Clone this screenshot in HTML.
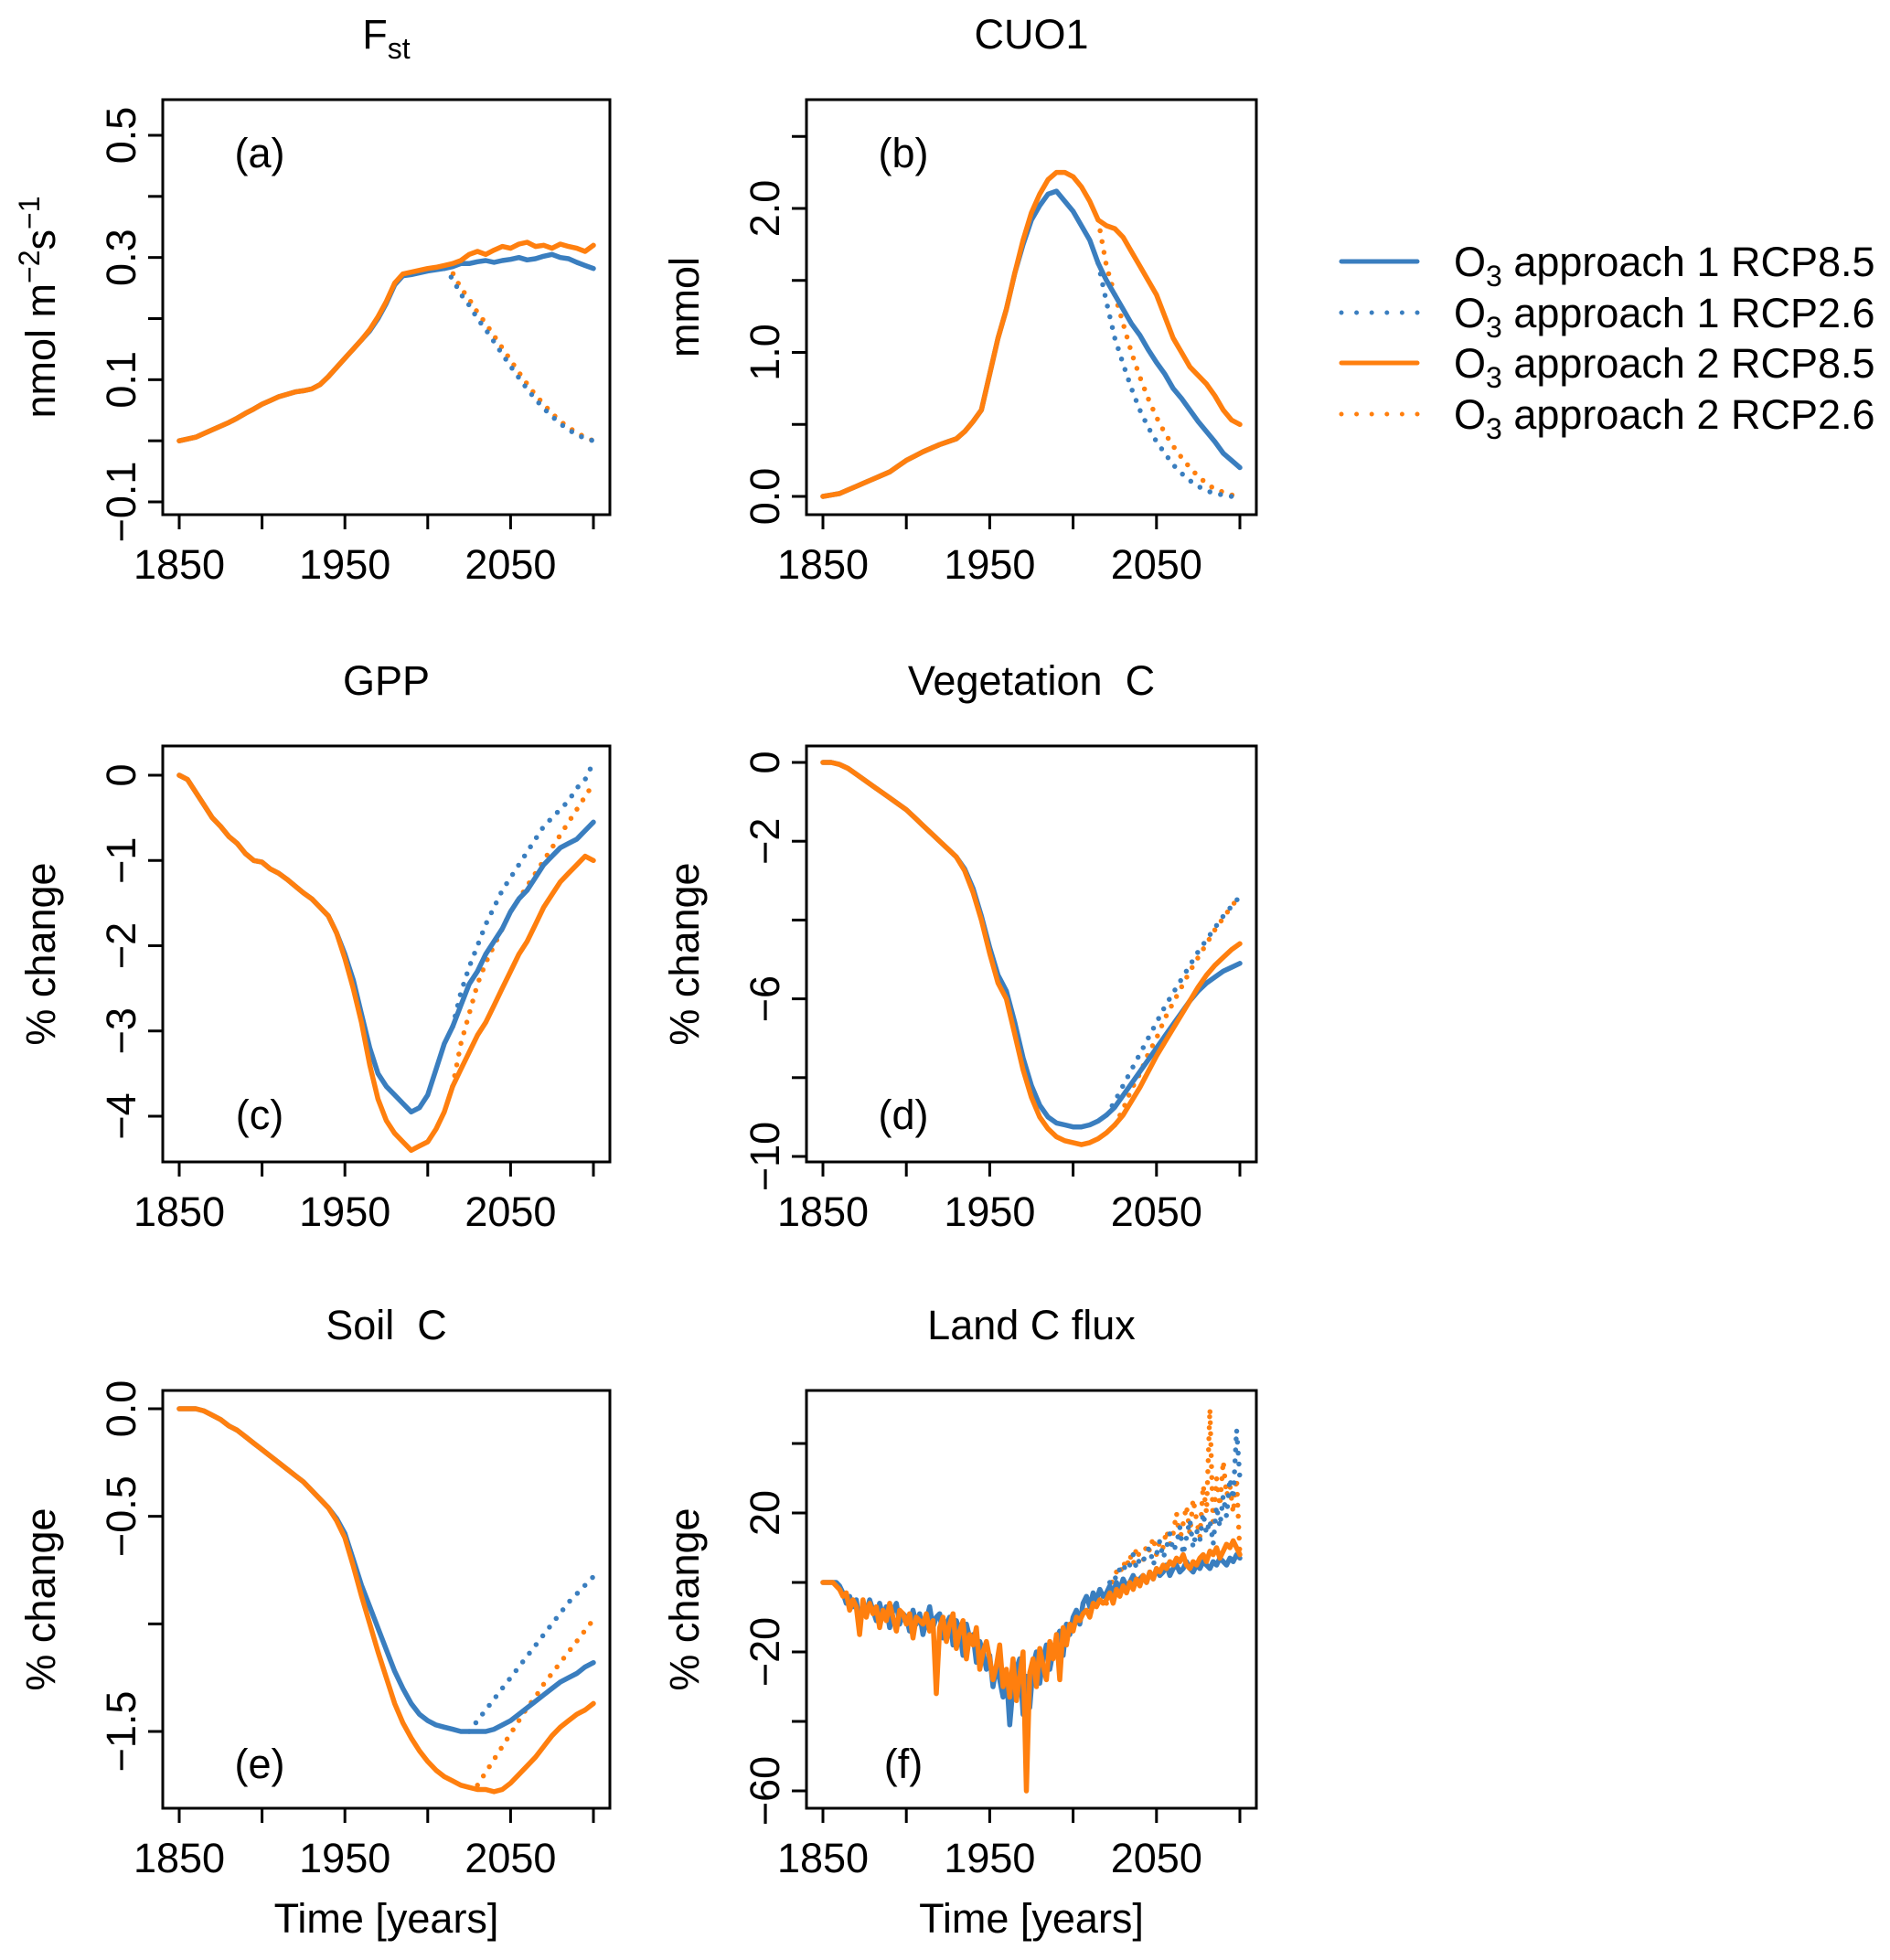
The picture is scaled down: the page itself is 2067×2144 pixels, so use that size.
<!DOCTYPE html>
<html><head><meta charset="utf-8"><style>
html,body{margin:0;padding:0;background:#fff;}
svg{display:block;font-family:"Liberation Sans",Arial,sans-serif;}
</style></head><body>
<svg id="fig" width="2067" height="2144" viewBox="0 0 2067 2144" xmlns="http://www.w3.org/2000/svg"></svg>
<script>
// ---------- data ----------
const yearsSolid=[];for(let y=1850;y<=2100;y+=5)yearsSolid.push(y);
const yearsFlux=[];for(let y=1850;y<=2100;y+=2)yearsFlux.push(y);
const yearsFluxDot=[];for(let y=2020;y<=2100;y+=2)yearsFluxDot.push(y);

// (a) Fst
const fstA1=[0,0.003,0.006,0.012,0.018,0.024,0.03,0.037,0.045,0.052,0.06,0.066,0.072,0.076,0.08,0.082,0.085,0.092,0.105,0.12,0.135,0.15,0.165,0.18,0.2,0.225,0.255,0.27,0.272,0.275,0.278,0.28,0.282,0.285,0.29,0.29,0.293,0.295,0.292,0.295,0.297,0.3,0.296,0.298,0.302,0.305,0.3,0.298,0.292,0.287,0.282];
const fstA2=[0,0.003,0.006,0.012,0.018,0.024,0.03,0.037,0.045,0.052,0.06,0.066,0.072,0.076,0.08,0.082,0.085,0.092,0.105,0.12,0.135,0.15,0.165,0.182,0.203,0.228,0.258,0.273,0.276,0.279,0.282,0.284,0.287,0.29,0.295,0.305,0.31,0.305,0.312,0.318,0.315,0.322,0.325,0.318,0.32,0.315,0.322,0.318,0.315,0.31,0.32];
const yearsDotA=[2010,2015,2020,2025,2030,2035,2040,2045,2050,2055,2060,2065,2070,2075,2080,2085,2090,2095,2100];
const fstA1d=[0.282,0.265,0.24,0.222,0.2,0.182,0.162,0.142,0.122,0.103,0.085,0.068,0.053,0.04,0.028,0.018,0.01,0.004,0];
const fstA2d=[0.284,0.275,0.25,0.232,0.21,0.192,0.172,0.152,0.132,0.112,0.093,0.075,0.06,0.045,0.032,0.022,0.013,0.006,0];

// (b) CUO1
const cuoA1=[0,0.01,0.02,0.045,0.07,0.095,0.12,0.145,0.17,0.21,0.25,0.28,0.31,0.335,0.36,0.38,0.4,0.45,0.52,0.6,0.85,1.1,1.3,1.55,1.75,1.92,2.02,2.1,2.12,2.05,1.98,1.88,1.78,1.62,1.5,1.4,1.3,1.2,1.12,1.02,0.93,0.85,0.75,0.68,0.6,0.52,0.45,0.38,0.3,0.25,0.2];
const cuoA2=[0,0.01,0.02,0.045,0.07,0.095,0.12,0.145,0.17,0.21,0.25,0.28,0.31,0.335,0.36,0.38,0.4,0.45,0.52,0.6,0.85,1.1,1.3,1.55,1.78,1.97,2.1,2.2,2.25,2.25,2.22,2.15,2.05,1.92,1.88,1.86,1.8,1.7,1.6,1.5,1.4,1.25,1.1,1.0,0.9,0.84,0.78,0.7,0.6,0.53,0.5];
const yearsDotB=[2015,2020,2025,2030,2035,2040,2045,2050,2055,2060,2065,2070,2075,2080,2085,2090,2095,2100];
const cuoA1d=[1.62,1.35,1.1,0.92,0.75,0.6,0.48,0.38,0.3,0.22,0.16,0.11,0.07,0.04,0.02,0.01,0,-0.01];
const cuoA2d=[1.92,1.6,1.4,1.2,1.0,0.83,0.68,0.55,0.44,0.35,0.27,0.2,0.14,0.09,0.05,0.03,0.01,0];

// (c) GPP
const gppA1=[0,-0.05,-0.2,-0.35,-0.5,-0.6,-0.72,-0.8,-0.92,-1.0,-1.02,-1.1,-1.15,-1.22,-1.3,-1.38,-1.45,-1.55,-1.65,-1.85,-2.1,-2.4,-2.8,-3.2,-3.5,-3.65,-3.75,-3.85,-3.95,-3.9,-3.75,-3.45,-3.15,-2.95,-2.7,-2.45,-2.3,-2.1,-1.95,-1.8,-1.6,-1.45,-1.35,-1.2,-1.05,-0.95,-0.85,-0.8,-0.75,-0.65,-0.55];
const gppA2=[0,-0.05,-0.2,-0.35,-0.5,-0.6,-0.72,-0.8,-0.92,-1.0,-1.02,-1.1,-1.15,-1.22,-1.3,-1.38,-1.45,-1.55,-1.65,-1.85,-2.15,-2.5,-2.9,-3.4,-3.8,-4.05,-4.2,-4.3,-4.4,-4.35,-4.3,-4.15,-3.95,-3.65,-3.45,-3.25,-3.05,-2.9,-2.7,-2.5,-2.3,-2.1,-1.95,-1.75,-1.55,-1.4,-1.25,-1.15,-1.05,-0.95,-1.0];
const gppA1d=[-2.95,-2.55,-2.25,-2.0,-1.75,-1.55,-1.35,-1.2,-1.05,-0.9,-0.75,-0.6,-0.5,-0.4,-0.3,-0.15,-0.05,0.15];
const gppA2d=[-3.65,-3.15,-2.8,-2.45,-2.2,-2.0,-1.8,-1.6,-1.45,-1.3,-1.15,-1.0,-0.85,-0.7,-0.55,-0.4,-0.25,-0.1];

// (d) Vegetation C
const vegA1=[0,0,-0.05,-0.15,-0.3,-0.45,-0.6,-0.75,-0.9,-1.05,-1.2,-1.4,-1.6,-1.8,-2.0,-2.2,-2.4,-2.7,-3.2,-3.9,-4.7,-5.4,-5.8,-6.6,-7.5,-8.2,-8.7,-9.0,-9.15,-9.2,-9.25,-9.25,-9.2,-9.1,-8.95,-8.75,-8.45,-8.15,-7.85,-7.55,-7.25,-6.95,-6.65,-6.35,-6.05,-5.8,-5.6,-5.45,-5.3,-5.2,-5.1];
const vegA2=[0,0,-0.05,-0.15,-0.3,-0.45,-0.6,-0.75,-0.9,-1.05,-1.2,-1.4,-1.6,-1.8,-2.0,-2.2,-2.4,-2.75,-3.3,-4.0,-4.85,-5.6,-6.0,-6.9,-7.8,-8.5,-9.0,-9.3,-9.5,-9.6,-9.65,-9.7,-9.65,-9.55,-9.4,-9.2,-8.95,-8.6,-8.25,-7.85,-7.45,-7.1,-6.75,-6.4,-6.05,-5.7,-5.4,-5.15,-4.95,-4.75,-4.6];
const yearsDotD1=[2020,2025,2030,2035,2040,2045,2050,2055,2060,2065,2070,2075,2080,2085,2090,2095,2100];
const vegA1d=[-8.95,-8.6,-8.2,-7.8,-7.4,-7.0,-6.6,-6.2,-5.85,-5.5,-5.15,-4.8,-4.5,-4.2,-3.9,-3.65,-3.4];
const yearsDotD2=[2025,2030,2035,2040,2045,2050,2055,2060,2065,2070,2075,2080,2085,2090,2095,2100];
const vegA2d=[-9.2,-8.8,-8.3,-7.9,-7.4,-7.0,-6.5,-6.1,-5.7,-5.3,-4.95,-4.6,-4.25,-3.95,-3.65,-3.4];

// (e) Soil C
const soilA1=[0,0,0,-0.01,-0.03,-0.05,-0.08,-0.1,-0.13,-0.16,-0.19,-0.22,-0.25,-0.28,-0.31,-0.34,-0.38,-0.42,-0.46,-0.51,-0.58,-0.7,-0.82,-0.92,-1.02,-1.12,-1.22,-1.3,-1.37,-1.42,-1.45,-1.47,-1.48,-1.49,-1.5,-1.5,-1.5,-1.5,-1.49,-1.47,-1.45,-1.42,-1.39,-1.36,-1.33,-1.3,-1.27,-1.25,-1.23,-1.2,-1.18];
const soilA2=[0,0,0,-0.01,-0.03,-0.05,-0.08,-0.1,-0.13,-0.16,-0.19,-0.22,-0.25,-0.28,-0.31,-0.34,-0.38,-0.42,-0.46,-0.52,-0.6,-0.73,-0.87,-1.0,-1.13,-1.25,-1.37,-1.46,-1.53,-1.59,-1.64,-1.68,-1.71,-1.73,-1.75,-1.76,-1.77,-1.77,-1.78,-1.77,-1.74,-1.7,-1.66,-1.62,-1.57,-1.52,-1.48,-1.45,-1.42,-1.4,-1.37];
const yearsDotE1=[2025,2030,2035,2040,2045,2050,2055,2060,2065,2070,2075,2080,2085,2090,2095,2100];
const soilA1d=[-1.5,-1.45,-1.4,-1.35,-1.3,-1.25,-1.2,-1.15,-1.1,-1.05,-1.0,-0.95,-0.9,-0.86,-0.82,-0.78];
const yearsDotE2=[2030,2035,2040,2045,2050,2055,2060,2065,2070,2075,2080,2085,2090,2095,2100];
const soilA2d=[-1.75,-1.69,-1.63,-1.57,-1.51,-1.45,-1.39,-1.34,-1.28,-1.23,-1.18,-1.13,-1.08,-1.03,-0.98];

// (f) Land C flux
const fluxA1=[0,0,0,0,0,
-1,-3,-6,-4,-7,-5,-12,-6,-9,-5,
-8,-11,-6,-10,-7,-13,-8,-6,-12,-9,
-10,-14,-8,-12,-9,-15,-11,-7,-13,-10,
-9,-16,-12,-10,-18,-11,-14,-21,-12,-16,
-15,-23,-17,-20,-25,-21,-30,-24,-28,-33,
-26,-41,-30,-25,-22,-38,-27,-36,-24,-20,
-29,-22,-18,-25,-20,-16,-14,-21,-12,-15,
-10,-8,-12,-6,-4,-7,-3,-5,-2,-4,
-3,-1,-3,0,-2,1,-1,0,2,0,
1,2,0,3,1,4,2,3,5,2,
4,5,3,4,6,4,3,5,4,6,
5,4,6,5,7,6,5,7,6,8,
7];
const fluxA2=[0,0,0,0,-1,
-2,-4,-3,-8,-5,-7,-15,-5,-10,-6,
-9,-7,-13,-8,-11,-6,-10,-14,-8,-9,
-12,-9,-16,-10,-11,-12,-9,-14,-11,-32,
-13,-10,-17,-12,-9,-19,-14,-11,-22,-15,
-18,-13,-25,-20,-17,-22,-28,-24,-18,-30,
-25,-33,-22,-34,-27,-20,-60,-26,-22,-30,
-19,-24,-28,-17,-22,-15,-28,-13,-18,-12,
-14,-10,-11,-9,-8,-10,-6,-7,-5,-6,
-5,-3,-6,-2,-4,-1,-3,0,-2,1,
-1,2,0,3,1,4,3,5,4,6,
5,7,6,8,5,4,6,5,7,8,
6,9,8,10,7,9,11,10,12,10,
8];
const fluxA1d=[-3,0,2,1,4,3,6,5,8,4,7,6,9,10,5,8,12,7,10,14,9,11,16,8,13,18,10,15,12,20,14,18,11,22,16,25,19,30,24,44,30];
const fluxA2d=[-6,-2,1,3,2,6,4,8,5,10,7,6,11,9,13,8,12,10,15,11,14,20,12,17,22,14,24,18,13,28,20,50,16,30,22,35,25,28,20,30,8];

// ---------- drawing ----------
const NS="http://www.w3.org/2000/svg";
const svg=document.getElementById('fig');
const BLUE="#3a7ebf", ORANGE="#ff7f0e";
const FS=45, SUBFS=32;
function mk(tag,attrs,parent){const e=document.createElementNS(NS,tag);for(const k in attrs)e.setAttribute(k,attrs[k]);(parent||svg).appendChild(e);return e;}

function panel(p){
  const g=mk('g',{});
  
  
  const L=p.x0,R=p.x1,T=p.y0,B=p.y1;
  const xs=v=>p.px1850+(v-1850)*(p.px2100-p.px1850)/250;
  const ys=v=>p.py0+(v-p.v0)*(p.py1-p.py0)/(p.v1-p.v0);
  const cid='clip-'+p.name;
  const cp=mk('clipPath',{id:cid},g);mk('rect',{x:L,y:T,width:R-L,height:B-T},cp);
  const plot=mk('g',{'clip-path':'url(#'+cid+')'},g);
  function series(xa,ya,color,dotted,nm){
    let d='';xa.forEach((x,i)=>{d+=(i?'L':'M')+xs(x).toFixed(1)+','+ys(ya[i]).toFixed(1);});
    const a={d:d,fill:'none',stroke:color,'stroke-width':dotted?5.5:5.5,'stroke-linejoin':'round','stroke-linecap':'round'};
    if(dotted){a['stroke-dasharray']='0 12';}
    const el=mk('path',a,plot);
    
    
  }
  series(p.dx2||p.dx,p.d2,ORANGE,true,'series-approach2-rcp26');
  series(p.dx,p.d1,BLUE,true,'series-approach1-rcp26');
  series(p.sx,p.s1,BLUE,false,'series-approach1-rcp85');
  series(p.sx,p.s2,ORANGE,false,'series-approach2-rcp85');
  const box=mk('rect',{x:L,y:T,width:R-L,height:B-T,fill:'none',stroke:'#000','stroke-width':3},g);
  
  
  const xt=[1850,1900,1950,2000,2050,2100];
  mk('line',{x1:xs(1850),x2:xs(2100),y1:B,y2:B,stroke:'#000','stroke-width':3},g);
  xt.forEach(t=>{mk('line',{x1:xs(t),x2:xs(t),y1:B,y2:B+16,stroke:'#000','stroke-width':3},g);});
  [1850,1950,2050].forEach(t=>{
    const tx=mk('text',{x:xs(t),y:B+70,'font-size':FS,'text-anchor':'middle'},g);tx.textContent=t;
    
    
  });
  p.yt.forEach(t=>{mk('line',{x1:L,x2:L-16,y1:ys(t),y2:ys(t),stroke:'#000','stroke-width':3},g);});
  p.yl.forEach((t,i)=>{
    const yy=ys(t);
    const tx=mk('text',{x:0,y:0,'font-size':FS,'text-anchor':'middle',transform:'translate('+(L-30)+','+yy+') rotate(-90)'},g);
    tx.textContent=p.ylab[i];
    
    
  });
  const yt=mk('text',{x:0,y:0,'font-size':FS,'text-anchor':'middle',transform:'translate('+(L-118)+','+((T+B)/2)+') rotate(-90)'},g);
  yt.innerHTML=p.ytitle;
  
  
  const tt=mk('text',{x:(L+R)/2,y:T-56,'font-size':FS,'text-anchor':'middle'},g);
  tt.innerHTML=p.title;
  
  
  const lt=mk('text',{x:L+106,y:p.letterY,'font-size':FS,'text-anchor':'middle'},g);
  lt.textContent=p.letter;
  
  
  if(p.xtitle){
    const xl=mk('text',{x:(L+R)/2,y:2114,'font-size':FS,'text-anchor':'middle'},g);
    xl.textContent='Time [years]';
    
    
  }
}
const C1={x0:178,x1:667,px1850:196,px2100:649};
const C2={x0:882,x1:1374,px1850:900,px2100:1356};
const R1={y0:109,y1:563},R2={y0:816,y1:1271},R3={y0:1521,y1:1978};

panel(Object.assign({},C1,R1,{name:'panel-a-fst',py0:549,v0:-0.1,py1:148,v1:0.5,
  sx:yearsSolid,s1:fstA1,s2:fstA2,dx:yearsDotA,d1:fstA1d,d2:fstA2d,
  yt:[-0.1,0,0.1,0.2,0.3,0.4,0.5],yl:[-0.1,0.1,0.3,0.5],ylab:['\u22120.1','0.1','0.3','0.5'],
  ytitle:'nmol m<tspan dy="-17" font-size="32">\u22122</tspan><tspan dy="17">s</tspan><tspan dy="-17" font-size="32">\u22121</tspan>',
  title:'F<tspan dy="11" font-size="32">st</tspan>',letter:'(a)',letterY:183}));
panel(Object.assign({},C2,R1,{name:'panel-b-cuo1',py0:543,v0:0,py1:228,v1:2,
  sx:yearsSolid,s1:cuoA1,s2:cuoA2,dx:yearsDotB,d1:cuoA1d,d2:cuoA2d,
  yt:[0,0.5,1,1.5,2,2.5],yl:[0,1,2],ylab:['0.0','1.0','2.0'],
  ytitle:'mmol',title:'CUO1',letter:'(b)',letterY:183}));
panel(Object.assign({},C1,R2,{name:'panel-c-gpp',py0:848,v0:0,py1:1221,v1:-4,
  sx:yearsSolid,s1:gppA1,s2:gppA2,dx:yearsDotB,d1:gppA1d,d2:gppA2d,
  yt:[0,-1,-2,-3,-4],yl:[0,-1,-2,-3,-4],ylab:['0','\u22121','\u22122','\u22123','\u22124'],
  ytitle:'%  change',title:'GPP',letter:'(c)',letterY:1235}));
panel(Object.assign({},C2,R2,{name:'panel-d-vegetation-c',py0:834,v0:0,py1:1265,v1:-10,
  sx:yearsSolid,s1:vegA1,s2:vegA2,dx:yearsDotD1,d1:vegA1d,dx2:yearsDotD2,d2:vegA2d,
  yt:[0,-2,-4,-6,-8,-10],yl:[0,-2,-6,-10],ylab:['0','\u22122','\u22126','\u221210'],
  ytitle:'%  change',title:'Vegetation\u00a0\u00a0C',letter:'(d)',letterY:1235}));
panel(Object.assign({},C1,R3,{name:'panel-e-soil-c',py0:1541,v0:0,py1:1894,v1:-1.5,
  sx:yearsSolid,s1:soilA1,s2:soilA2,dx:yearsDotE1,d1:soilA1d,dx2:yearsDotE2,d2:soilA2d,
  yt:[0,-0.5,-1,-1.5],yl:[0,-0.5,-1.5],ylab:['0.0','\u22120.5','\u22121.5'],
  ytitle:'%  change',title:'Soil\u00a0\u00a0C',letter:'(e)',letterY:1945,xtitle:true}));
panel(Object.assign({},C2,R3,{name:'panel-f-land-c-flux',py0:1731,v0:0,py1:1655,v1:20,
  sx:yearsFlux,s1:fluxA1,s2:fluxA2,dx:yearsFluxDot,d1:fluxA1d,d2:fluxA2d,
  yt:[40,20,0,-20,-40,-60],yl:[20,-20,-60],ylab:['20','\u221220','\u221260'],
  ytitle:'%  change',title:'Land C flux',letter:'(f)',letterY:1945,xtitle:true}));

// legend
const legEntries=[['1 RCP8.5',BLUE,false],['1 RCP2.6',BLUE,true],['2 RCP8.5',ORANGE,false],['2 RCP2.6',ORANGE,true]];
const legY=[286,342,397,453];
const leg=mk('g',{});


legEntries.forEach((e,i)=>{
  const g=mk('g',{},leg);
  
  
  const a={x1:1467,x2:1550,y1:legY[i],y2:legY[i],stroke:e[1],'stroke-width':5,'stroke-linecap':'round'};
  if(e[2])a['stroke-dasharray']='0 16.6';
  mk('line',a,g);
  const t=mk('text',{x:1590,y:legY[i]+16,'font-size':FS},g);
  t.innerHTML='O<tspan dy="11" font-size="32">3</tspan><tspan dy="-11"> approach '+e[0]+'</tspan>';
});
</script>
</body></html>
